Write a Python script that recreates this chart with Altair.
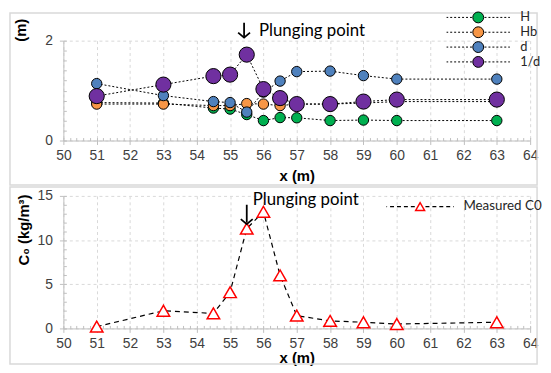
import altair as alt
import pandas as pd

# ---------------- data ----------------
x_pos = [51, 53, 54.5, 55, 55.5, 56, 56.5, 57, 58, 59, 60, 63]
H = [0.76, 0.75, 0.65, 0.63, 0.52, 0.40, 0.46, 0.455, 0.40, 0.41, 0.40, 0.40]
Hb = [0.73, 0.73, 0.70, 0.70, 0.74, 0.73, 0.70, 0.73, 0.73, 0.75, 0.78, 0.78]
d = [1.14, 0.90, 0.78, 0.76, 0.57, 0.97, 1.19, 1.38, 1.39, 1.30, 1.23, 1.23]
inv_d = [0.89, 1.12, 1.29, 1.32, 1.72, 1.03, 0.85, 0.73, 0.73, 0.78, 0.82, 0.82]
C0 = [0.2, 2.0, 1.7, 4.1, 11.3, 13.2, 6.0, 1.45, 0.85, 0.7, 0.5, 0.7]

series_names = ["H", "Hb", "d", "1/d"]
series_colors = ["#00b050", "#f79646", "#4f81bd", "#7030a0"]
big_series = "1/d"
c0_name = "Measured C0"
c0_line_key = "C0 line"

x_ticks = list(range(50, 65))
y_top_ticks = [0, 1, 2]
y_bot_ticks = [0, 5, 10, 15]
x_minor = [round(50 + 0.2 * i, 1) for i in range(71)]
y_top_minor = [round(0.2 * i, 1) for i in range(11)]
y_bot_minor = list(range(16))

annot_text = "Plunging point"
top_arrow = {"x": [55.42], "y1": [2.36], "y2": [2.08], "tip": [2.06], "ty": [2.2]}
bot_arrow = {"x": [55.5], "y1": [14.0], "y2": [12.0], "tip": [11.8], "ty": [14.56]}

# ---------------- layout constants ----------------
W, HT, HB = 472, 101, 134
GRID = "#d9d9d9"
AX = "#bfbfbf"
TICKFONT = "Liberation Sans"
TXTFONT = "Lato"

top_df = pd.DataFrame(
    [{"x": xv, "v": vv, "series": s}
     for s, vals in zip(series_names, [H, Hb, d, inv_d])
     for xv, vv in zip(x_pos, vals)]
)
top_small = top_df[top_df["series"] != big_series]
top_big = top_df[top_df["series"] == big_series]
bot_df = pd.DataFrame({"x": x_pos, "v": C0, "c0s": [c0_name] * len(x_pos),
                       "lab": [c0_line_key] * len(x_pos)})

xs = alt.Scale(domain=[50, 64], nice=False)
ys_top = alt.Scale(domain=[0, 2], nice=False)
ys_bot = alt.Scale(domain=[0, 15], nice=False)
fill_scale = alt.Scale(domain=series_names, range=series_colors)


def main_x_axis(tpad):
    return alt.Axis(values=x_ticks, grid=True, gridColor=GRID, gridDash=[3, 3],
                    domainColor=AX, tickColor=AX, tickSize=4, labelPadding=4,
                    labelFont=TICKFONT, labelFontSize=14, labelColor="#404040",
                    labelFlush=False, labelOverlap=False, format="d",
                    title="x (m)", titleFont=TICKFONT, titleFontSize=15,
                    titleFontWeight="bold", titleColor="black", titlePadding=tpad)


def main_y_axis(vals, title, tx, ty):
    return alt.Axis(values=vals, grid=True, gridColor=GRID, gridDash=[3, 3],
                    domainColor=AX, tickColor=AX, tickSize=4, labelPadding=7,
                    labelFont=TICKFONT, labelFontSize=14, labelColor="#404040",
                    labelFlush=False, labelOverlap=False, format="d",
                    title=title, titleFont=TICKFONT, titleFontSize=15,
                    titleFontWeight="bold", titleColor="black", titleAngle=270,
                    titleX=tx, titleY=ty, titleAlign="center", titleBaseline="middle")


def minor_x_axis(h):
    return alt.Axis(orient="top", offset=-h, values=x_minor, labels=False, domain=False,
                    grid=False, ticks=True, tickSize=3, tickColor=AX, title=None)


def minor_y_axis(vals):
    return alt.Axis(orient="right", offset=-W, values=vals, labels=False, domain=False,
                    grid=False, ticks=True, tickSize=3, tickColor=AX, title=None)


def border(y0, y1):
    return alt.Chart(pd.DataFrame({"k": [0]})).mark_rect(
        fill="white", fillOpacity=0, stroke=GRID, strokeWidth=1.5
    ).encode(x=alt.value(-54), x2=alt.value(479), y=alt.value(y0), y2=alt.value(y1))


def dash_path(r_in, r_out, on, off):
    parts = []
    a = r_in
    while a < r_out:
        b = min(a + on, r_out)
        parts.append(f"M{a:.3f},0H{b:.3f}M{-a:.3f},0H{-b:.3f}")
        a += on + off
    return "".join(parts)


# legend symbol: dashed line with circle (unit = 5.5 px for size 121)
top_sym = dash_path(1.15, 5.82, 0.364, 0.364) + "M1,0A1,1 0 1,1 -1,0A1,1 0 1,1 1,0Z"
bot_line_sym = dash_path(1.2, 7.56, 0.889, 0.667)


def annotation(ann, ys, dx):
    a = pd.DataFrame(ann)
    shaft = alt.Chart(a).mark_rule(color="black", strokeWidth=1.8).encode(
        x=alt.X("x:Q", scale=xs, axis=None),
        y=alt.Y("y1:Q", scale=ys, axis=None), y2="y2:Q")
    head = alt.Chart(a).mark_point(shape="M-1,-0.85L0,0L1,-0.85", filled=False,
                                   stroke="black", strokeWidth=1.8, size=144, opacity=1).encode(
        x=alt.X("x:Q", scale=xs, axis=None),
        y=alt.Y("tip:Q", scale=ys, axis=None))
    txt = alt.Chart(a).mark_text(text=annot_text, align="left", baseline="middle", dx=dx,
                                 font=TXTFONT, fontSize=17, color="black").encode(
        x=alt.X("x:Q", scale=xs, axis=None),
        y=alt.Y("ty:Q", scale=ys, axis=None))
    return [shaft, head, txt]


# ---------------- top panel ----------------
top_lines = alt.Chart(top_df).mark_line(color="black", strokeWidth=1, strokeDash=[2, 2]).encode(
    x=alt.X("x:Q", scale=xs, axis=minor_x_axis(HT)),
    y=alt.Y("v:Q", scale=ys_top, axis=minor_y_axis(y_top_minor)),
    detail="series:N",
    order="x:Q",
)
top_legend = alt.Legend(title=None, orient="none", legendX=413, legendY=-30,
                        symbolType=top_sym, symbolSize=121,
                        symbolStrokeColor="black", symbolStrokeWidth=1,
                        labelFont=TXTFONT, labelFontSize=13, labelColor="#262626",
                        labelOffset=36, rowPadding=0, padding=0)
top_points_small = alt.Chart(top_small).mark_point(
    filled=True, shape="circle", stroke="black", strokeWidth=1, opacity=1, size=110
).encode(
    x=alt.X("x:Q", scale=xs, axis=main_x_axis(6)),
    y=alt.Y("v:Q", scale=ys_top, axis=main_y_axis(y_top_ticks, "(m)", -43, -11)),
    fill=alt.Fill("series:N", scale=fill_scale, legend=top_legend),
)
top_points_big = alt.Chart(top_big).mark_point(
    filled=True, shape="circle", stroke="black", strokeWidth=1, opacity=1, size=235
).encode(
    x=alt.X("x:Q", scale=xs, axis=None),
    y=alt.Y("v:Q", scale=ys_top, axis=None),
    fill=alt.Fill("series:N", scale=fill_scale, legend=top_legend),
)

top = alt.layer(border(-28, 146), top_lines, top_points_small, top_points_big,
                *annotation(top_arrow, ys_top, 15)
                ).resolve_axis(x="independent", y="independent").properties(width=W, height=HT)

# ---------------- bottom panel ----------------
bot_line = alt.Chart(bot_df).mark_line(strokeWidth=1.2, strokeDash=[5, 4]).encode(
    x=alt.X("x:Q", scale=xs, axis=minor_x_axis(HB)),
    y=alt.Y("v:Q", scale=ys_bot, axis=minor_y_axis(y_bot_minor)),
    color=alt.Color("lab:N", scale=alt.Scale(domain=[c0_line_key], range=["black"]),
                    legend=alt.Legend(title=None, orient="none", legendX=354, legendY=4,
                                      symbolType=bot_line_sym, symbolSize=81,
                                      symbolStrokeWidth=1.2, labelExpr="''",
                                      labelFont=TXTFONT, labelFontSize=13.5,
                                      labelOffset=37, padding=0)),
    order="x:Q",
)
bot_points = alt.Chart(bot_df).mark_point(shape="triangle-up", filled=True, fill="white",
                                          strokeWidth=1.5, size=160, opacity=1).encode(
    x=alt.X("x:Q", scale=xs, axis=main_x_axis(0)),
    y=alt.Y("v:Q", scale=ys_bot,
            axis=main_y_axis(y_bot_ticks, "C\u2080 (kg/m\u00b3)", -40, 34)),
    stroke=alt.Stroke("c0s:N", scale=alt.Scale(domain=[c0_name], range=["#ff0000"]),
                      legend=alt.Legend(title=None, orient="none", legendX=354, legendY=4,
                                        symbolType="triangle-up", symbolSize=81,
                                        symbolFillColor="white", symbolStrokeWidth=1.5,
                                        labelFont=TXTFONT, labelFontSize=13.5,
                                        labelColor="#262626", labelOffset=37, padding=0)),
)

bottom = alt.layer(border(-9, 170), bot_line, bot_points, *annotation(bot_arrow, ys_bot, 6)
                   ).resolve_axis(x="independent", y="independent").properties(width=W, height=HB)

chart = alt.vconcat(top, bottom, spacing=56, bounds="flush").resolve_scale(
    fill="independent", color="independent", stroke="independent"
).resolve_legend(
    fill="independent", color="independent", stroke="independent"
).properties(
    padding=0, background="white"
).configure_view(stroke="transparent")

chart.save("out.html", embed_options={"renderer": "svg", "actions": False})
